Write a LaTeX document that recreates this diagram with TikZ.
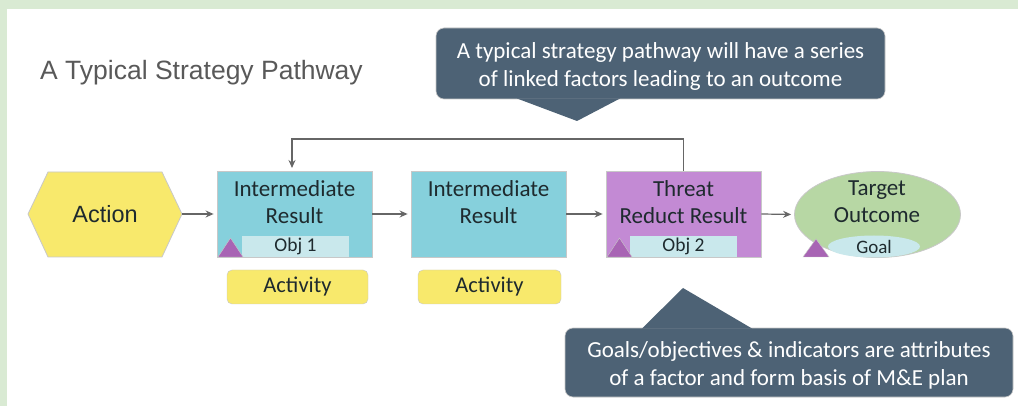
\documentclass[tikz,border=0pt]{standalone}
\usepackage{fontspec}
\setmainfont{Carlito}
\newfontfamily\arialfont{Liberation Sans}
\usetikzlibrary{arrows.meta,shapes.geometric}
\definecolor{frame}{HTML}{D9EAD3}
\definecolor{hexfill}{HTML}{F8E96C}
\definecolor{irfill}{HTML}{86D0DC}
\definecolor{trfill}{HTML}{C38AD4}
\definecolor{tofill}{HTML}{B7D7A4}
\definecolor{objfill}{HTML}{C9E8EC}
\definecolor{trifill}{HTML}{A864B4}
\definecolor{callfill}{HTML}{4D6275}
\definecolor{edge}{HTML}{C8C8C8}
\definecolor{linkc}{HTML}{666666}
\definecolor{titlec}{HTML}{595959}
\definecolor{txt}{HTML}{1E2A2E}
\tikzset{
  factor/.style={draw=edge, line width=0.8pt, minimum width=155pt, minimum height=86pt, inner sep=0pt},
  objbox/.style={fill=objfill, minimum width=107pt, minimum height=21pt, inner sep=0pt, font=\fontsize{19.5}{19.5}\selectfont, text=txt},
  actbox/.style={draw=edge, fill=hexfill, rounded corners=5pt, minimum height=34pt, inner sep=0pt, font=\fontsize{22.5}{22.5}\selectfont, text=txt},
  link/.style={draw=linkc, line width=1.2pt, shorten >=3pt, -{Stealth[length=8pt,width=7pt]}},
  callout/.style={fill=callfill, draw=edge, line width=0.6pt, rounded corners=8pt},
  calltext/.style={text=white, align=center, font=\fontsize{23}{28}\selectfont},
  tri/.style={fill=trifill, draw=edge, line width=0.4pt},
  lbl/.style={align=center, text=txt, font=\fontsize{23}{27}\selectfont}
}
\begin{document}
\begin{tikzpicture}[x=1pt,y=-1pt]
  % page frame
  \fill[frame] (0,0) rectangle (1018,406);
  \fill[white] (7,9) rectangle (1018,406);
  \useasboundingbox (0,0) rectangle (1018,406);

  % title
  \node[anchor=west, inner sep=0pt, text=titlec, font=\arialfont\fontsize{26.5}{26.5}\selectfont] (title) at (40,73) {A Typical Strategy Pathway};

  % action hexagon
  \draw[draw=edge, fill=hexfill, line width=0.8pt] (28,214) -- (48,172) -- (162,172) -- (182,214) -- (162,257) -- (48,257) -- cycle;
  \node[font=\arialfont\fontsize{23.5}{23.5}\selectfont, text=txt] (action) at (105,214) {Action};
  \coordinate (actR) at (182,214);

  % factor boxes
  \node[factor, fill=irfill] (ir1) at (294.5,214) {};
  \node[factor, fill=irfill] (ir2) at (488.5,214) {};
  \node[factor, fill=trfill] (tr) at (683.5,214) {};
  \node[lbl] (ir1t) at (294.5,202) {Intermediate\\Result};
  \node[lbl] (ir2t) at (488.5,202) {Intermediate\\Result};
  \node[lbl] (trt) at (683.5,202) {Threat\\Reduct Result};

  % objectives
  \node[objbox] (obj1) at (295.5,246.5) {Obj 1};
  \node[objbox] (obj2) at (683.5,246.5) {Obj 2};
  \draw[tri] (218,257) -- (230.5,238) -- (243,257) -- cycle;
  \draw[tri] (607,257) -- (619.5,238) -- (632,257) -- cycle;

  % target outcome
  \node[ellipse, draw=edge, line width=0.8pt, fill=tofill, minimum width=166pt, minimum height=86pt, inner sep=0pt] (to) at (877.5,214.5) {};
  \node[lbl] (tot) at (877,202) {Target\\Outcome};
  \node[ellipse, fill=objfill, minimum width=92pt, minimum height=22pt, inner sep=0pt, font=\fontsize{19}{19}\selectfont, text=txt] (goal) at (874,246.5) {Goal};
  \draw[tri] (803,257) -- (816,239) -- (829,257) -- cycle;

  % activities
  \node[actbox, minimum width=141pt] (act1) at (297.5,287) {Activity};
  \node[actbox, minimum width=143pt] (act2) at (489.5,287) {Activity};

  % links along the pathway
  \draw[link] (actR) -- (ir1.west);
  \draw[link] (ir1.east) -- (ir2.west);
  \draw[link] (ir2.east) -- (tr.west);
  \draw[link] (tr.east) -- (to.west);
  \draw[link] (tr.north) -- (683.5,139) -- (292,139) -- (292,171);

  % callouts
  \draw[callout] (436,28) rectangle (885,99);
  \fill[callfill] (517,98.5) -- (577,121) -- (620,98.5) -- cycle;
  \node[calltext] (c1) at (660.5,66) {A typical strategy pathway will have a series\\of linked factors leading to an outcome};

  \draw[callout] (565,328) rectangle (1013,397);
  \fill[callfill] (642,328.5) -- (683,288) -- (752,328.5) -- cycle;
  \node[calltext] (c2) at (789,365.5) {Goals/objectives \& indicators are attributes\\of a factor and form basis of M\&E plan};
\end{tikzpicture}
\end{document}
